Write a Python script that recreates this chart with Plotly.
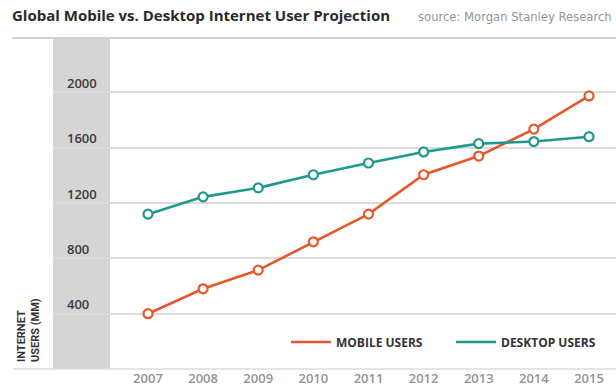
import plotly.graph_objects as go

years = [2007, 2008, 2009, 2010, 2011, 2012, 2013, 2014, 2015]
mobile_users = [400, 580, 715, 920, 1120, 1405, 1540, 1735, 1975]
desktop_users = [1120, 1245, 1310, 1405, 1490, 1570, 1630, 1645, 1680]
y_ticks = [400, 800, 1200, 1600, 2000]

MOBILE_C = "#E5582C"
DESKTOP_C = "#1F998C"
FONT = "Open Sans"
COND = "Roboto"

fig = go.Figure()
for name, vals, col in [("MOBILE USERS", mobile_users, MOBILE_C),
                        ("DESKTOP USERS", desktop_users, DESKTOP_C)]:
    fig.add_trace(go.Scatter(x=years, y=vals, mode="lines", name=name,
                             line=dict(color=col, width=2.6)))
for vals, col in [(mobile_users, MOBILE_C), (desktop_users, DESKTOP_C)]:
    fig.add_trace(go.Scatter(x=years, y=vals, mode="markers", showlegend=False,
                             marker=dict(size=9, color="white", symbol="circle",
                                         line=dict(color=col, width=2.2))))

L, R, T, B = 53, 0, 38, 23
W, H = 616, 392
pw = W - L - R
ph = H - T - B

fig.update_layout(
    width=W, height=H,
    margin=dict(l=L, r=R, t=T, b=B, pad=0),
    paper_bgcolor="white", plot_bgcolor="white",
    font=dict(family=FONT, color="#333"),
    title=dict(text="<b>Global Mobile vs. Desktop Internet User Projection</b>",
               xref="container", yref="container", x=12 / W, y=1 - 16 / H,
               xanchor="left", yanchor="middle",
               font=dict(family=FONT, size=15, color="#2a2a2a")),
    xaxis=dict(range=[2005.277, 2015.49], tickvals=years, showgrid=False,
               zeroline=False, showline=False, ticks="",
               tickfont=dict(family=FONT, size=13, color="#939393", weight=600)),
    yaxis=dict(range=[0, 2394], tickvals=y_ticks, showgrid=True,
               gridcolor="#dcdcdc", gridwidth=1.5, zeroline=False, showline=False,
               ticks="", ticklabelposition="inside top", ticklabelstandoff=11,
               tickfont=dict(family=FONT, size=13, color="#3a3a3a", weight=600)),
    legend=dict(orientation="h", x=1, xanchor="right",
                y=(369 - 342) / ph, yanchor="middle", bgcolor="rgba(0,0,0,0)",
                font=dict(family=FONT, size=12, color="#333", weight=700),
                itemwidth=40, entrywidth=110, tracegroupgap=0),
    shapes=[
        dict(type="rect", xref="paper", yref="paper", x0=0, x1=(110 - L) / pw,
             y0=0, y1=1, fillcolor="#d5d5d5", line=dict(width=0), layer="below"),
        dict(type="line", xref="paper", yref="paper", x0=(12 - L) / pw, x1=1,
             y0=1, y1=1, line=dict(color="#d0d0d0", width=2)),
        dict(type="line", xref="paper", yref="paper", x0=(13 - L) / pw, x1=1,
             y0=0, y1=0, line=dict(color="#dcdcdc", width=1.5)),
    ],
    annotations=[
        dict(text="source: Morgan Stanley Research", xref="paper", yref="paper",
             x=(416 - L) / pw, y=1 + 21 / ph, xanchor="left", yanchor="middle",
             showarrow=False, font=dict(family="DejaVu Sans", size=11.6, color="#959595")),
        dict(text="INTERNET<br>USERS (MM)", xref="paper", yref="paper",
             x=(28 - L) / pw, y=(369 - 330) / ph, textangle=-90, align="left",
             xanchor="center", yanchor="middle", showarrow=False,
             font=dict(family=COND, size=11, color="#333", weight=700)),
    ],
)

fig.write_html("out.html")
